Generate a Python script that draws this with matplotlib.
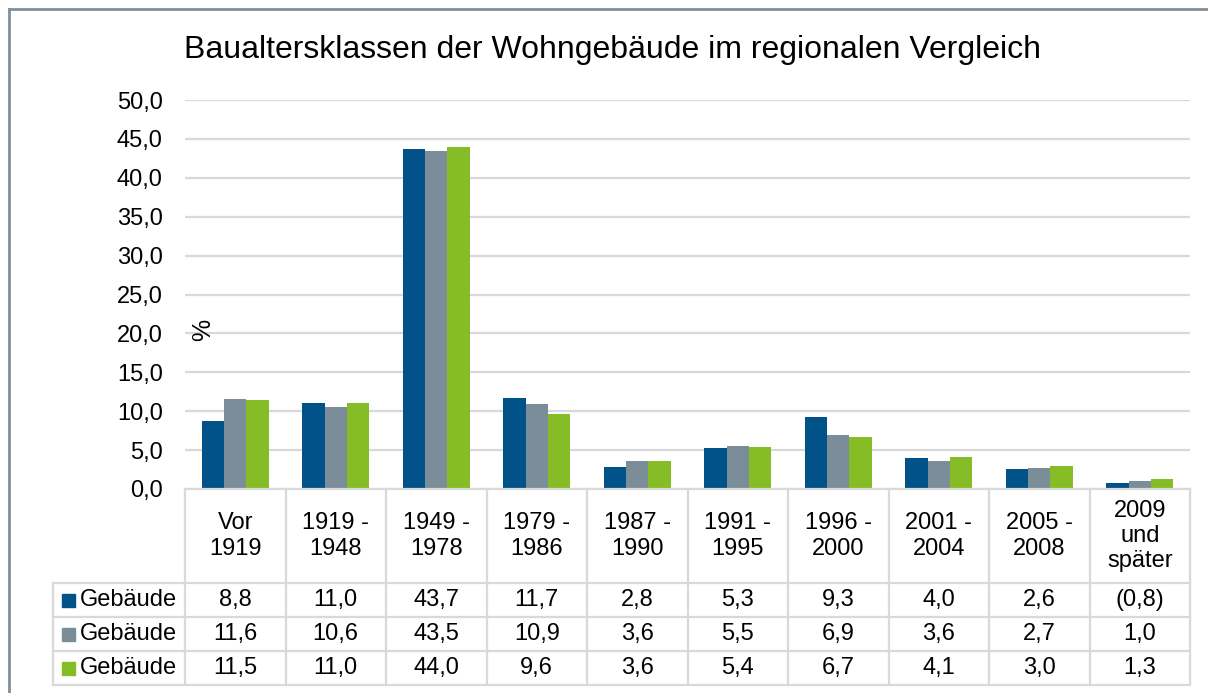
import matplotlib.pyplot as plt
from matplotlib.lines import Line2D
from matplotlib.patches import Rectangle
from matplotlib.transforms import blended_transform_factory

plt.rcParams["font.family"] = ["Liberation Sans", "DejaVu Sans"]

categories = ["Vor\n1919", "1919 -\n1948", "1949 -\n1978", "1979 -\n1986", "1987 -\n1990",
              "1991 -\n1995", "1996 -\n2000", "2001 -\n2004", "2005 -\n2008", "2009\nund\nspäter"]
series_names = ["Gebäude", "Gebäude", "Gebäude"]
blue_vals = [8.8, 11.0, 43.7, 11.7, 2.8, 5.3, 9.3, 4.0, 2.6, 0.8]
gray_vals = [11.6, 10.6, 43.5, 10.9, 3.6, 5.5, 6.9, 3.6, 2.7, 1.0]
green_vals = [11.5, 11.0, 44.0, 9.6, 3.6, 5.4, 6.7, 4.1, 3.0, 1.3]
# cells shown in brackets in the table (series index, category index)
bracketed = [(0, 9)]

colors = ["#02528a", "#7b8d98", "#86bc25"]
grid_col = "#d9d9d9"
W, H = 1208, 693

fig = plt.figure(figsize=(W / 100, H / 100), dpi=100)
ax = fig.add_axes([185 / W, 1 - 489 / H, (1190 - 185) / W, (489 - 100) / H])

n = len(categories)
x = list(range(n))
bw = 0.222
all_vals = [blue_vals, gray_vals, green_vals]
for i, vals in enumerate(all_vals):
    ax.bar([xi + (i - 1) * bw for xi in x], vals, width=bw, color=colors[i], zorder=3)

ax.set_xlim(-0.5, n - 0.5)
ax.set_ylim(0, 50)
ax.set_yticks([i * 5 for i in range(11)])
ax.set_yticklabels([f"{i * 5:.1f}".replace(".", ",") for i in range(11)], fontsize=17)
ax.tick_params(axis="y", length=0, pad=16)
ax.set_xticks([])
for s in ax.spines.values():
    s.set_visible(False)
ax.yaxis.grid(True, color=grid_col, linewidth=1.6, zorder=0)
ax.set_axisbelow(True)

fig.text(203 / W, 1 - 330 / H, "%", rotation=90, fontsize=18, ha="center", va="center")
fig.suptitle("Baualtersklassen der Wohngebäude im regionalen Vergleich", x=613 / W, y=1 - 50 / H,
             fontsize=23, va="center")

# data table below the chart
tr = blended_transform_factory(ax.transData, fig.transFigure)
y_top, y_head, y_bot = 1 - 489 / H, 1 - 583 / H, 1 - 685 / H
row_h = (y_head - y_bot) / 3
lw = 1.6
x_left = 53 / W
x_axl, x_axr = 185 / W, 1190 / W
fig.add_artist(Line2D([x_axl, x_axr], [y_top, y_top], color=grid_col, lw=lw, transform=fig.transFigure))
for r in range(4):
    yy = y_head - r * row_h
    fig.add_artist(Line2D([x_left, x_axr], [yy, yy], color=grid_col, lw=lw, transform=fig.transFigure))
fig.add_artist(Line2D([x_left, x_left], [y_head, y_bot], color=grid_col, lw=lw, transform=fig.transFigure))
for k in range(n + 1):
    fig.add_artist(Line2D([k - 0.5, k - 0.5], [y_top, y_bot], color=grid_col, lw=lw, transform=tr))

for k, cat in enumerate(categories):
    fig.text(k, (y_top + y_head) / 2, cat, transform=tr, ha="center", va="center", fontsize=17,
             linespacing=1.18)

for i, vals in enumerate(all_vals):
    yc = y_head - (i + 0.5) * row_h
    fig.add_artist(Rectangle((62 / W, yc - 6.5 / H), 13 / W, 13 / H, color=colors[i],
                             transform=fig.transFigure))
    fig.text(80 / W, yc, series_names[i], ha="left", va="center", fontsize=17)
    for k, v in enumerate(vals):
        lab = f"{v:.1f}".replace(".", ",")
        if (i, k) in bracketed:
            lab = "(" + lab + ")"
        fig.text(k, yc, lab, transform=tr, ha="center", va="center", fontsize=17)

# outer frame
frame_col = "#7f8f9b"
fig.add_artist(Line2D([9 / W, 9 / W], [0, 1 - 9 / H], color=frame_col, lw=2, transform=fig.transFigure))
fig.add_artist(Line2D([9 / W, 1], [1 - 9 / H, 1 - 9 / H], color=frame_col, lw=2, transform=fig.transFigure))

fig.savefig("out.png", dpi=100)
